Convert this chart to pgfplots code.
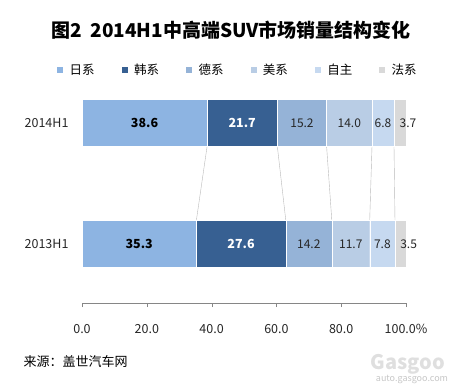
\documentclass[border=0pt]{standalone}
\usepackage{fontspec}
\setmainfont{Noto Sans CJK SC}
\usepackage{pgfplots}
\pgfplotsset{compat=1.18}
\definecolor{cA}{HTML}{8DB4E2}
\definecolor{cB}{HTML}{376092}
\definecolor{cC}{HTML}{95B3D7}
\definecolor{cD}{HTML}{B9CDE5}
\definecolor{cE}{HTML}{C6D9F0}
\definecolor{cF}{HTML}{D9D9D9}
\definecolor{axgray}{HTML}{868686}
\begin{document}
\begin{tikzpicture}
\useasboundingbox (0pt,0pt) rectangle (455pt,386pt);
\node[font=\fontsize{19}{22}\selectfont\bfseries] at (231pt,356pt) {图2\ \ 2014H1中高端SUV市场销量结构变化};
\begin{axis}[
  at={(82pt,83pt)}, anchor=south west, scale only axis,
  width=324pt, height=239pt,
  xbar stacked, bar width=0.39,
  xmin=0, xmax=100, ymin=-0.49, ymax=1.49,
  enlargelimits=false, clip=false,
  ytick={0,1}, yticklabels={2013H1,2014H1},
  xtick={0,20,40,60,80,100},
  xticklabels={0.0,20.0,40.0,60.0,80.0,100.0\%},
  axis x line=bottom, axis y line=left,
  axis line style={-, draw=axgray},
  y axis line style={draw=none},
  ytick style={draw=none},
  xtick style={draw=axgray},
  tick align=outside, major tick length=4pt,
  xticklabel style={yshift=-14pt},
  yticklabel style={xshift=-6pt, font=\fontsize{12.5}{14}\selectfont},
  xticklabel style={font=\fontsize{12.5}{14}\selectfont},
  ticklabel style={text=black!85},
  /pgf/number format/assume math mode=true,
  legend columns=6,
  legend style={at={(0.48,0.975)}, anchor=center, draw=none, fill=none,
    font=\fontsize{12.5}{14}\selectfont,
    /tikz/every odd column/.append style={column sep=4pt},
    /tikz/every even column/.append style={column sep=24pt}},
  every axis plot/.append style={
    legend image code/.code={\fill[##1] (0pt,-3.5pt) rectangle (7pt,3.5pt);}},
  point meta=explicit symbolic,
  nodes near coords={\pgfplotspointmeta},
  every node near coord/.append style={font=\fontsize{12}{14}\selectfont, text=black!85},
]
\addplot[fill=cA, draw=white, every node near coord/.append style={font=\fontsize{12.5}{14}\selectfont\bfseries, text=black}]
  coordinates {(35.3,0) [35.3] (38.6,1) [38.6]};
\addplot[fill=cB, draw=white, every node near coord/.append style={font=\fontsize{12.5}{14}\selectfont\bfseries, text=white}]
  coordinates {(27.6,0) [27.6] (21.7,1) [21.7]};
\addplot[fill=cC, draw=white] coordinates {(14.2,0) [14.2] (15.2,1) [15.2]};
\addplot[fill=cD, draw=white] coordinates {(11.7,0) [11.7] (14.0,1) [14.0]};
\addplot[fill=cE, draw=white] coordinates {(7.8,0) [7.8] (6.8,1) [6.8]};
\addplot[fill=cF, draw=white, every node near coord/.append style={xshift=8pt}] coordinates {(3.5,0) [3.5] (3.7,1) [3.7]};
\legend{日系,韩系,德系,美系,自主,法系}
\addplot[sharp plot, stack plots=false, forget plot, draw=gray!55, no markers, nodes near coords=] coordinates {(38.6,0.805) (35.3,0.195)};
\addplot[sharp plot, stack plots=false, forget plot, draw=gray!55, no markers, nodes near coords=] coordinates {(60.3,0.805) (62.9,0.195)};
\addplot[sharp plot, stack plots=false, forget plot, draw=gray!55, no markers, nodes near coords=] coordinates {(75.5,0.805) (77.1,0.195)};
\addplot[sharp plot, stack plots=false, forget plot, draw=gray!55, no markers, nodes near coords=] coordinates {(89.5,0.805) (88.8,0.195)};
\addplot[sharp plot, stack plots=false, forget plot, draw=gray!55, no markers, nodes near coords=] coordinates {(96.3,0.805) (96.6,0.195)};
\end{axis}
\node[anchor=west, font=\fontsize{13}{15}\selectfont] at (20pt,24pt) {来源：盖世汽车网};
\node[font=\fontsize{20}{22}\selectfont\bfseries, text=gray!25] at (408pt,22pt) {Gasgoo};
\node[font=\fontsize{9}{10}\selectfont, text=gray!45] at (412pt,7pt) {auto.gasgoo.com};
\end{tikzpicture}
\end{document}
